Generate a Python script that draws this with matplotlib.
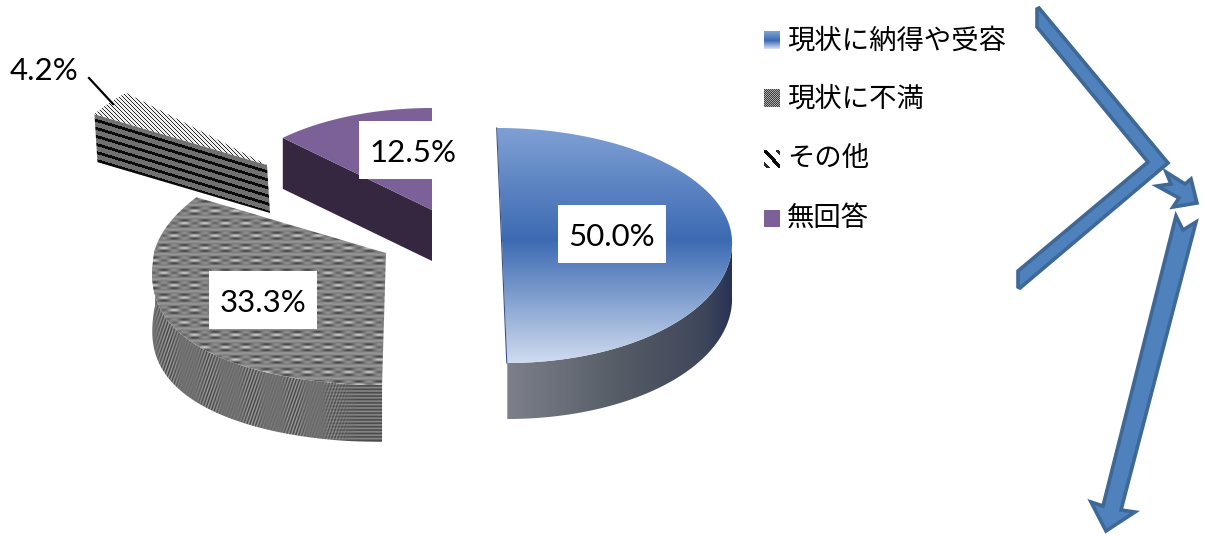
import numpy as np
import matplotlib
matplotlib.use("Agg")
import matplotlib.pyplot as plt
from matplotlib.patches import Polygon, Rectangle

plt.rcParams['font.family'] = ['Noto Sans CJK JP', 'DejaVu Sans']

categories = ["現状に納得や受容", "現状に不満", "その他", "無回答"]
values = [50.0, 33.3, 4.2, 12.5]
value_labels = ["50.0%", "33.3%", "4.2%", "12.5%"]

W, H = 1205, 536
fig = plt.figure(figsize=(W / 100, H / 100), dpi=100, facecolor="white")
ax = fig.add_axes([0, 0, 1, 1])
ax.set_axis_off()

yy, xx = np.mgrid[0:H, 0:W] + 0.5


def project(t_deg, g, depth=0.0):
    t = np.radians(np.asarray(t_deg, dtype=float))
    u, v = np.sin(t), np.cos(t)
    y = np.where(v >= 0, g["cy"] - g["ry_far"] * v,
                 g["cy"] + g["ry_near"] * np.abs(v) ** g["p"])
    x = g["cx"] + g["R"] * u * (1 - g["k"] * v) + g["shear"] * (y - g["cy"])
    return np.column_stack([x + g["dx"] * (depth / max(g["depth"], 1)), y + depth])


def image_from_rgb(stops_axis, stops, coord):
    return np.dstack([np.interp(coord, stops_axis, [s[i] for s in stops]) / 255 for i in range(3)])


def fill(poly, img, z):
    patch = Polygon(poly, closed=True, transform=ax.transData, facecolor="none", edgecolor="none")
    ax.add_patch(patch)
    im = ax.imshow(img, extent=(0, W, H, 0), origin="upper", aspect="auto",
                   interpolation="nearest", zorder=z, cmap="gray", vmin=0, vmax=255)
    im.set_clip_path(patch)


# one geometry for each exploded slice
geom = [
    dict(cx=502, cy=240, R=230, ry_far=112, ry_near=123, p=1.0, k=0.0, shear=0.043, depth=56, dx=0),
    dict(cx=386, cy=253, R=232, ry_far=112, ry_near=132, p=0.85, k=0.10, shear=-0.03, depth=57, dx=0),
    dict(cx=267, cy=165, R=199, ry_far=102, ry_near=102, p=1.0, k=0.0, shear=0.0, depth=48, dx=3),
    dict(cx=432, cy=210, R=211, ry_far=102, ry_near=102, p=1.0, k=0.0, shear=0.0, depth=51, dx=0),
]

# textures
blue_top = image_from_rgb([128, 240, 363], [(127, 160, 212), (60, 106, 178), (208, 220, 240)], yy)
blue_side = image_from_rgb([507, 620, 705, 731],
                           [(125, 128, 138), (85, 92, 102), (62, 70, 90), (40, 50, 85)], xx)
grey_top = 128 + 70 * np.cos(2 * np.pi * yy / 6.2) * (
    0.3 + 0.7 * np.cos(2 * np.pi * xx / 20.5) * np.cos(2 * np.pi * yy / 24.8))
side_vert = 112 + 42 * np.cos(2 * np.pi * (xx + 0.35 * yy) / 3.1) * (0.4 + 0.6 * np.cos(2 * np.pi * xx / 42))
side_horiz = 105 + 32 * np.cos(2 * np.pi * yy / 3.4)
blend = np.clip((xx - 320) / 40, 0, 1)
grey_side = side_vert * (1 - blend) + side_horiz * blend
stripe_top = np.where(np.cos(2 * np.pi * (xx - yy) / 4.0) > -0.2, 240, 40)
stripe_side = np.where(np.cos(2 * np.pi * (yy - 0.3 * (xx - 95)) / 8.0) > 0.35, 10, 112)
purple_top = np.ones((H, W, 3)) * np.array([123, 97, 152]) / 255
purple_side = np.ones((H, W, 3)) * np.array([53, 39, 63]) / 255

tops = [blue_top, grey_top, stripe_top, purple_top]
sides = [blue_side, grey_side, stripe_side, purple_side]

# pie slices from the values
edges = np.cumsum([0] + values) / sum(values) * 360
for i, (a0, a1) in enumerate(zip(edges[:-1], edges[1:])):
    g = geom[i]
    z = 2 + i * 0.1
    ang = np.linspace(a0, a1, 160)
    apex = np.array([[g["cx"], g["cy"]]], dtype=float)
    # front wall: arc part facing the viewer
    lo, hi = max(a0, 90), min(a1, 272)
    if lo < hi:
        arc = np.linspace(lo, hi, 160)
        wall = np.vstack([project(arc, g), project(arc, g, g["depth"])[::-1]])
        fill(wall, sides[i], z)
    # front wall: radial cut facing the viewer
    if 270 < a0 < 360:
        outer = project([a0], g)
        face = np.vstack([apex, outer, project([a0], g, g["depth"]),
                          apex + np.array([[g["dx"], g["depth"]]])])
        fill(face, sides[i], z)
    fill(np.vstack([apex, project(ang, g)]), tops[i], z + 0.05)

# thin cut face of the big slice
cut = project([0, 180], geom[0])
ax.plot(cut[:, 0] - 0.5, cut[:, 1], color="#3a5284", lw=0.8, zorder=3)

# data labels
label_pos = [(612, 234), (263, 300), (44, 68), (413, 150)]
for txt, (lx, ly), box in zip(value_labels, label_pos, [True, True, False, True]):
    if box:
        ax.add_patch(Rectangle((lx - 54, ly - 29), 108, 58, facecolor="white", edgecolor="none", zorder=5))
    ax.text(lx, ly, txt, ha="center", va="center_baseline", fontsize=22.5, family="Lato", color="black", zorder=6)
ax.plot([89, 113], [78, 104], color="black", lw=1.6, zorder=4)

# legend
legend_y = [40, 98, 159, 218]
legend_text_dy = [1.5, 1.5, 0, 0.5]
sw = 16
for i, (name, y) in enumerate(zip(categories, legend_y)):
    ext = (764, 764 + sw, y + 9, y - 9)
    n = 18
    gy, gx = np.mgrid[0:n, 0:sw]
    if i == 0:
        img = image_from_rgb([0, 9, 17], [(127, 160, 212), (60, 106, 178), (208, 220, 240)], gy)
    elif i == 1:
        img = np.where((gx + gy) % 2 == 0, 60, 170)
    elif i == 2:
        d = gx - gy * 0.95
        img = np.where(np.abs(d) < 2.5, 10, np.where((np.abs(d - 13) < 2.0) | (np.abs(d + 13) < 2.0), 40, 255))
    else:
        img = None
    if img is None:
        ax.add_patch(Rectangle((764, y - 8), sw, 17, facecolor="#7b6198", edgecolor="none", zorder=5))
    else:
        ax.imshow(img, extent=ext, origin="upper", aspect="auto", interpolation="nearest",
                  cmap="gray", vmin=0, vmax=255, zorder=5)
    ax.text(787, y + legend_text_dy[i], name, ha="left", va="center", fontsize=19.7,
            color="black", zorder=6)

# blue block arrows drawn over the page
chevron = [(1039, 8), (1168, 163), (1020, 288), (1018, 287), (1018, 271), (1148, 162), (1037, 27), (1037, 9)]
short_head = [(1166, 172), (1185, 184), (1191, 179), (1197, 203), (1173, 207), (1179, 198), (1157, 186), (1171, 184)]
long_arrow = [(1176, 216), (1183, 230), (1196, 222), (1121, 510), (1135, 512), (1106, 531),
              (1091, 502), (1103, 506)]
for shape in (chevron, short_head, long_arrow):
    ax.add_patch(Polygon(shape, closed=True, facecolor="#4f81bd", edgecolor="#3e6896",
                         lw=2.6, joinstyle="miter", zorder=7))

ax.set_xlim(0, W)
ax.set_ylim(H, 0)
fig.savefig("out.png", dpi=100, facecolor="white")
